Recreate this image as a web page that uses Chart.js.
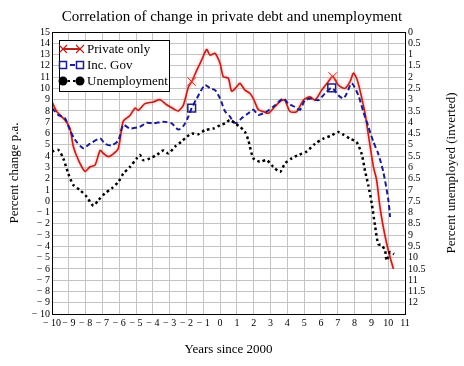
<!DOCTYPE html>
<html>
<head>
<meta charset="utf-8">
<script src="https://cdn.jsdelivr.net/npm/chart.js@4/dist/chart.umd.min.js"></script>
<style>
	html, body { margin: 0; padding: 0; background: #fff; }
	#wrap { width: 464px; height: 366px; }
</style>
</head>
<body>
<div id="wrap"><canvas id="debt-chart"></canvas></div>
<script>
//private debt change, % p.a.
const private_years = [-10, -9.72, -9.23, -8.93, -8.73, -8.43, -8.04, -7.74, -7.44, -7.14, -6.95, -6.65, -6.35, -6.05, -5.76, -5.36, -5.06, -4.86, -4.47, -3.97, -3.58, -3.18, -2.78, -2.49, -2.19, -1.89, -1.69, -1.39, -1.1, -0.8, -0.6, -0.3, 0, 0.19, 0.49, 0.69, 0.99, 1.18, 1.48, 1.78, 1.98, 2.28, 2.57, 2.87, 3.27, 3.66, 3.86, 4.16, 4.56, 4.95, 5.35, 5.65, 6.04, 6.44, 6.7, 7.03, 7.43, 7.73, 7.93, 8.12, 8.32, 8.62, 8.82, 9.12, 9.31, 9.51, 9.71, 9.91, 10.11, 10.31];
const private_values = [8.8, 7.95, 7.2, 6.45, 4.85, 3.65, 2.65, 3.05, 3.2, 4.5, 4.25, 3.95, 4.2, 4.7, 7.1, 7.6, 8.25, 8.05, 8.65, 8.8, 9.0, 8.55, 8.2, 8.0, 8.5, 10.1, 10.6, 11.6, 12.5, 13.45, 12.95, 13.1, 12.2, 11.05, 10.9, 9.75, 10.15, 10.45, 9.85, 9.55, 9.1, 8.1, 7.95, 7.8, 8.4, 8.95, 8.95, 7.95, 7.95, 8.95, 9.25, 8.95, 9.85, 10.6, 11.05, 10.3, 10.0, 10.6, 11.35, 10.9, 9.85, 7.8, 5.9, 3.05, 1.9, -0.5, -2.3, -3.75, -4.95, -6.0];
const private_marks = [-1.69, 6.7];

//private plus government debt change, % p.a.
const gov_years = [-10, -9.62, -9.23, -8.93, -8.63, -8.14, -7.74, -7.14, -6.85, -6.45, -6.05, -5.76, -5.36, -4.77, -4.37, -3.97, -3.38, -2.88, -2.49, -2.19, -1.89, -1.69, -1.39, -0.9, -0.6, -0.3, 0, 0.3, 0.59, 0.79, 0.99, 1.28, 1.68, 1.98, 2.28, 2.77, 3.27, 3.76, 4.06, 4.46, 4.75, 5.05, 5.45, 5.85, 6.24, 6.64, 7.03, 7.33, 7.53, 7.83, 8.22, 8.52, 8.82, 9.11, 9.41, 9.71, 10.01, 10.11];
const gov_values = [8.25, 7.65, 7.35, 6.3, 5.45, 4.7, 5.1, 5.55, 5.1, 4.95, 5.4, 6.75, 6.45, 6.6, 6.95, 6.9, 7.05, 6.9, 6.35, 6.65, 7.5, 8.25, 9.1, 10.3, 10.0, 9.85, 9.1, 7.95, 7.5, 7.0, 6.95, 7.35, 7.8, 8.1, 7.65, 7.95, 8.5, 9.1, 8.65, 8.35, 8.1, 8.95, 9.1, 8.95, 9.55, 10.05, 9.4, 9.1, 9.55, 10.45, 9.4, 7.95, 6.6, 5.3, 4.2, 2.6, 0.1, -1.4];
const gov_marks = [-1.69, 6.64];

//unemployment rate, % (right axis, inverted)
const unemp_years = [-10, -9.62, -9.33, -9.03, -8.73, -8.33, -7.94, -7.54, -7.24, -6.85, -6.45, -6.05, -5.76, -5.36, -4.96, -4.77, -4.57, -4.17, -3.77, -3.38, -3.08, -2.68, -2.29, -1.99, -1.69, -1.29, -0.9, -0.4, 0, 0.3, 0.59, 0.89, 1.18, 1.48, 1.68, 1.98, 2.37, 2.77, 3.17, 3.57, 3.86, 4.26, 4.66, 5.15, 5.65, 6.14, 6.64, 7.03, 7.33, 7.73, 8.12, 8.42, 8.62, 8.82, 9.02, 9.22, 9.41, 9.61, 9.81, 9.91, 10.11, 10.35];
const unemp_values = [5.3, 5.23, 5.6, 6.28, 6.78, 7.01, 7.3, 7.7, 7.45, 7.15, 6.93, 6.64, 6.28, 5.98, 5.6, 5.45, 5.68, 5.6, 5.45, 5.25, 5.38, 5.08, 4.85, 4.65, 4.5, 4.53, 4.35, 4.28, 4.13, 4.05, 3.9, 4.05, 4.2, 4.43, 4.8, 5.6, 5.75, 5.68, 5.98, 6.2, 5.83, 5.6, 5.45, 5.3, 4.95, 4.73, 4.58, 4.43, 4.55, 4.73, 4.88, 5.4, 6.15, 6.8, 7.6, 8.6, 9.4, 9.45, 9.68, 10.13, 9.75, 9.85];

const serif = "'Liberation Serif', 'Times New Roman', serif";

function toPoints(xs, ys) {
	return xs.map((x, i) => ({ x: x, y: ys[i] }));
}

function minusLabel(v) {
	return v < 0 ? '\u2212 ' + Math.abs(v) : String(v);
}

//pink glow under the private only line
const glowPlugin = {
	id: 'glow',
	beforeDatasetDraw(chart, args) {
		if (args.index !== 0) return;
		chart.ctx.save();
		chart.ctx.shadowColor = 'rgba(255, 130, 130, 0.9)';
		chart.ctx.shadowBlur = 3;
	},
	afterDatasetDraw(chart, args) {
		if (args.index !== 0) return;
		chart.ctx.restore();
	}
};

//box round the plot, right axis title and the legend inside the plot
const extrasPlugin = {
	id: 'extras',
	afterDraw(chart) {
		const c = chart.ctx;
		const a = chart.chartArea;
		c.save();
		c.strokeStyle = '#000';
		c.lineWidth = 1;
		c.setLineDash([]);
		c.strokeRect(Math.round(a.left) + 0.5, Math.round(a.top) + 0.5, Math.round(a.right - a.left), Math.round(a.bottom - a.top));

		c.translate(452, 173);
		c.rotate(-Math.PI / 2);
		c.font = '13px ' + serif;
		c.fillStyle = '#000';
		c.textAlign = 'center';
		c.textBaseline = 'middle';
		c.fillText('Percent unemployed (inverted)', 0, 0);
		c.restore();

		//legend
		c.save();
		c.fillStyle = '#fff';
		c.fillRect(59.5, 40.5, 110, 51);
		c.strokeStyle = '#000';
		c.lineWidth = 1;
		c.strokeRect(59.5, 40.5, 110, 51);
		const rows = [49, 65, 81];
		chart.data.datasets.forEach((ds, i) => {
			const y = rows[i];
			c.strokeStyle = ds.borderColor;
			c.lineWidth = 2;
			c.setLineDash(ds.borderDash || []);
			c.beginPath();
			c.moveTo(62, y);
			c.lineTo(81, y);
			c.stroke();
			c.setLineDash([]);
			[63, 80].forEach((mx) => {
				c.beginPath();
				if (i === 0) {
					c.lineWidth = 1.2;
					c.moveTo(mx - 4, y - 4); c.lineTo(mx + 4, y + 4);
					c.moveTo(mx + 4, y - 4); c.lineTo(mx - 4, y + 4);
					c.stroke();
				} else if (i === 1) {
					c.lineWidth = 1.5;
					c.fillStyle = '#fff';
					c.fillRect(mx - 3.5, y - 3.5, 7, 7);
					c.strokeRect(mx - 3.5, y - 3.5, 7, 7);
				} else {
					c.fillStyle = '#000';
					c.arc(mx, y, 4.5, 0, Math.PI * 2);
					c.fill();
				}
			});
			c.fillStyle = '#000';
			c.font = '13px ' + serif;
			c.textAlign = 'left';
			c.textBaseline = 'middle';
			c.fillText(ds.label, 87, y + 1);
		});
		c.restore();
	}
};

const ctx = document.getElementById('debt-chart').getContext('2d');
Chart.defaults.font.family = serif;
Chart.defaults.color = '#000';

let debtChart = new Chart(ctx, {
	type: 'line',
	data: {
		datasets: [{
			label: 'Private only',
			data: toPoints(private_years, private_values),
			yAxisID: 'y',
			borderColor: '#b8231c',
			borderWidth: 1.6,
			tension: 0.25,
			order: 3,
			pointStyle: 'crossRot',
			pointRadius: (c) => private_marks.includes(c.raw && c.raw.x) ? 6 : 0,
			pointBorderColor: '#d03020',
			pointBorderWidth: 1,
			pointBackgroundColor: 'rgba(0,0,0,0)'
		},
		{
			label: 'Inc. Gov',
			data: toPoints(gov_years, gov_values),
			yAxisID: 'y',
			borderColor: '#1c1c8c',
			borderWidth: 2,
			borderDash: [5, 3],
			tension: 0.25,
			order: 2,
			pointStyle: 'rect',
			pointRadius: (c) => gov_marks.includes(c.raw && c.raw.x) ? 5.5 : 0,
			pointBorderColor: '#1c1c8c',
			pointBorderWidth: 1.5,
			pointBackgroundColor: 'rgba(0,0,0,0)'
		},
		{
			label: 'Unemployment',
			data: toPoints(unemp_years, unemp_values),
			yAxisID: 'y1',
			borderColor: '#000',
			borderWidth: 2.5,
			borderDash: [2.5, 3],
			tension: 0.25,
			order: 1,
			pointRadius: 0
		}]
	},
	options: {
		responsive: true,
		maintainAspectRatio: false,
		animation: false,
		layout: { padding: 0 },
		plugins: {
			legend: { display: false },
			tooltip: { enabled: false },
			title: {
				display: true,
				text: 'Correlation of change in private debt and unemployment',
				font: { size: 15, weight: 'normal', lineHeight: 1.2 },
				padding: { top: 8, bottom: 6 }
			}
		},
		scales: {
			x: {
				type: 'linear',
				min: -10,
				max: 11,
				afterFit: (s) => { s.height = 52; },
				grid: { color: '#c4c4c4', drawTicks: false },
				border: { display: false },
				ticks: { stepSize: 1, autoSkip: false, maxRotation: 0, padding: 3, font: { size: 10 }, callback: minusLabel },
				title: { display: true, text: 'Years since 2000', font: { size: 13 }, padding: { bottom: 9 } }
			},
			y: {
				position: 'left',
				min: -10,
				max: 15,
				afterFit: (s) => { s.width = 52; },
				grid: { color: '#c4c4c4', drawTicks: false },
				border: { display: false },
				ticks: { stepSize: 1, autoSkip: false, padding: 2, font: { size: 10 }, callback: minusLabel },
				title: { display: true, text: 'Percent change p.a.', font: { size: 13 }, padding: { top: 7 } }
			},
			y1: {
				position: 'right',
				reverse: true,
				min: 0,
				max: 12.5,
				afterFit: (s) => { s.width = 59; },
				grid: { display: false, drawTicks: false },
				border: { display: false },
				ticks: { stepSize: 0.5, autoSkip: false, padding: 3, font: { size: 10 }, callback: (v) => v >= 12.5 ? '' : String(v) }
			}
		}
	},
	plugins: [glowPlugin, extrasPlugin]
});
</script>
</body>
</html>
